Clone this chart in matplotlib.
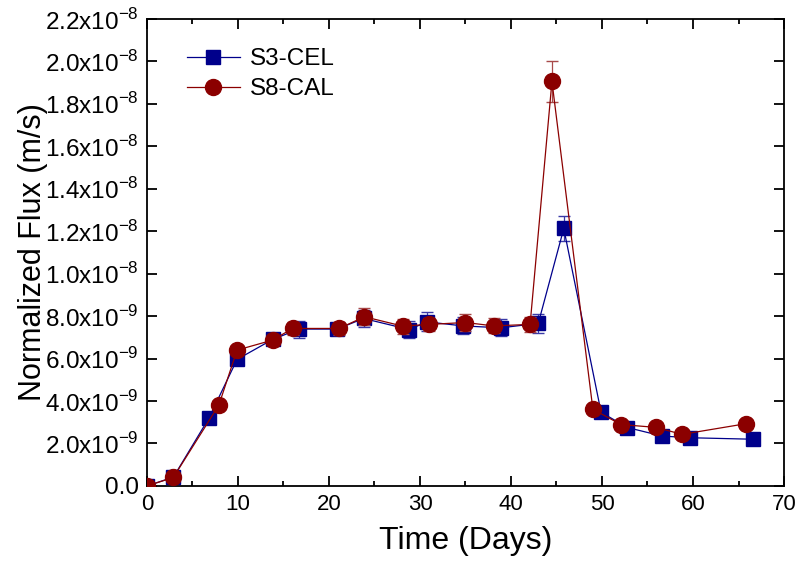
import matplotlib
matplotlib.use("Agg")
import matplotlib.pyplot as plt
from matplotlib.ticker import FuncFormatter, MultipleLocator
import numpy as np

plt.rcParams['font.family'] = ['Liberation Sans', 'DejaVu Sans']
plt.rcParams['mathtext.fontset'] = 'custom'
plt.rcParams['mathtext.rm'] = 'Liberation Sans'

# S3-CEL (squares), days and flux in 1e-9 m/s
s3_days = [0, 2.9, 6.8, 9.9, 13.8, 16.7, 20.9, 23.8, 28.8, 30.8, 34.7, 38.9,
           43.0, 45.8, 49.9, 52.8, 56.6, 59.7, 66.6]
s3_flux = [0.0, 0.41, 3.19, 5.96, 6.90, 7.39, 7.39, 7.89, 7.37, 7.73, 7.54, 7.45,
           7.66, 12.13, 3.47, 2.75, 2.35, 2.27, 2.20]
s3_err = [0.0, 0.1, 0.1, 0.2, 0.2, 0.4, 0.3, 0.4, 0.4, 0.45, 0.4, 0.4,
          0.45, 0.6, 0.15, 0.1, 0.1, 0.1, 0.1]

# S8-CAL (circles)
s8_days = [0, 2.9, 7.9, 9.9, 13.8, 16.0, 21.1, 23.9, 28.1, 31.0, 35.0, 38.1,
           42.1, 44.5, 49.0, 52.1, 55.9, 58.8, 65.8]
s8_flux = [0.0, 0.40, 3.81, 6.40, 6.87, 7.42, 7.42, 7.97, 7.53, 7.61, 7.70, 7.54,
           7.61, 19.06, 3.61, 2.89, 2.76, 2.43, 2.93]
s8_err = [0.0, 0.1, 0.1, 0.2, 0.2, 0.3, 0.3, 0.4, 0.35, 0.3, 0.4, 0.35,
          0.35, 0.96, 0.15, 0.1, 0.1, 0.1, 0.1]

blue = "#00008B"
red = "#8B0000"

fig = plt.figure(figsize=(7.97, 5.71), dpi=100)
ax = fig.add_axes([0.1844, 0.149, 0.7993, 0.8177])

scale = 1e-9
ax.errorbar(s3_days, np.array(s3_flux) * scale, yerr=np.array(s3_err) * scale,
            color=blue, ecolor="#3a3aa8", lw=0.9, elinewidth=0.9, capsize=4,
            marker="s", ms=10, mec=blue, mfc=blue, label="S3-CEL", zorder=3)
ax.errorbar(s8_days, np.array(s8_flux) * scale, yerr=np.array(s8_err) * scale,
            color=red, ecolor="#a84a4a", lw=0.9, elinewidth=0.9, capsize=4,
            marker="o", ms=11.5, mec=red, mfc=red, label="S8-CAL", zorder=4)

ax.set_xlim(0, 70)
ax.set_ylim(0, 2.2e-8)
ax.xaxis.set_major_locator(MultipleLocator(10))
ax.xaxis.set_minor_locator(MultipleLocator(5))
ax.yaxis.set_major_locator(MultipleLocator(2e-9))


def fmt(v, pos):
    if abs(v) < 1e-12:
        return "0.0"
    if v >= 1e-8 - 1e-13:
        return r"%.1fx10$^{\mathregular{-8}}$" % (v / 1e-8)
    return r"%.1fx10$^{\mathregular{-9}}$" % (v / 1e-9)


ax.yaxis.set_major_formatter(FuncFormatter(fmt))
ax.tick_params(which="both", direction="in", top=True, right=True, width=1.3, pad=6)
ax.tick_params(axis="x", labelsize=16)
ax.tick_params(axis="y", labelsize=17.5)
ax.tick_params(which="major", length=7)
ax.tick_params(which="minor", length=3.5)
for s in ax.spines.values():
    s.set_linewidth(1.3)

ax.set_xlabel("Time (Days)", fontsize=23, labelpad=8)
ax.set_ylabel("Normalized Flux (m/s)", fontsize=22, labelpad=-2)

handles, labels = ax.get_legend_handles_labels()
handles = [h[0] for h in handles]
ax.legend(handles, labels, loc="upper left", bbox_to_anchor=(0.047, 0.958),
          borderaxespad=0, frameon=False, fontsize=17.5, handlelength=2.2,
          handletextpad=0.4, labelspacing=0.32)

fig.savefig("out.png", dpi=100)
